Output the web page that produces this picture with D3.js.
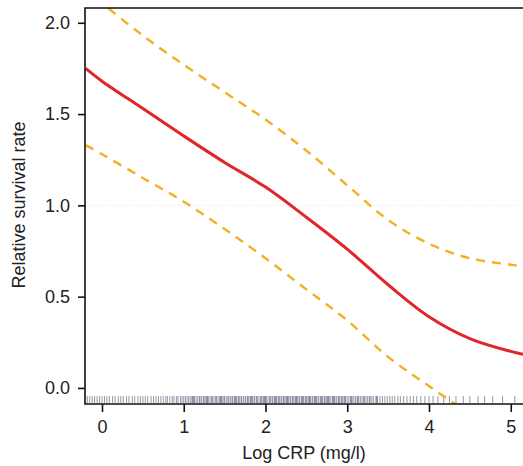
<!DOCTYPE html>
<html>
<head>
<meta charset="utf-8">
<script src="https://cdn.jsdelivr.net/npm/d3@7"></script>
<style>
  body { margin: 0; background: #fff; }
  text { font-family: "Liberation Sans", Arial, sans-serif; fill: #222; }
</style>
</head>
<body>
<div id="chart"></div>
<script>
// log CRP grid the curves were read at
const xGrid = [-0.2, 0, 0.5, 1, 1.5, 2, 2.5, 3, 3.5, 4, 4.5, 5, 5.15];
// estimated relative survival rate and its confidence band
const fitValues = [1.75, 1.68, 1.53, 1.38, 1.235, 1.10, 0.935, 0.76, 0.565, 0.39, 0.27, 0.20, 0.185];
const upperValues = [2.20, 2.11, 1.93, 1.77, 1.62, 1.47, 1.30, 1.11, 0.92, 0.79, 0.71, 0.675, 0.665];
const lowerValues = [1.33, 1.28, 1.15, 1.02, 0.87, 0.71, 0.54, 0.37, 0.17, 0.01, -0.14, -0.27, -0.30];

// individual observations (rug)
const rugValues = [
  -0.18, -0.15, -0.12, -0.09, -0.06, -0.03, 0.0, 0.03, 0.06, 0.09, 0.13, 0.16, 0.2, 0.23, 0.26,
  0.3, 0.33, 0.37, 0.4, 0.44, 0.47, 0.5, 0.53, 0.56, 0.6, 0.63, 0.66, 0.69, 0.72, 0.75, 0.78,
  0.8, 0.83, 0.86, 0.88, 0.91, 0.93, 0.96, 0.98, 1.0, 1.02, 1.04, 1.06, 1.08, 1.1, 1.12, 1.13,
  1.15, 1.17, 1.19, 1.2, 1.22, 1.24, 1.25, 1.27, 1.29, 1.3, 1.32, 1.34, 1.35, 1.37, 1.39, 1.4,
  1.42, 1.44, 1.45, 1.47, 1.49, 1.5, 1.52, 1.54, 1.55, 1.57, 1.59, 1.6, 1.62, 1.63, 1.65, 1.67,
  1.68, 1.7, 1.71, 1.73, 1.75, 1.76, 1.78, 1.79, 1.81, 1.83, 1.84, 1.86, 1.87, 1.89, 1.9, 1.92,
  1.94, 1.95, 1.97, 1.98, 2.0, 2.01, 2.03, 2.05, 2.06, 2.08, 2.09, 2.11, 2.12, 2.14, 2.16, 2.17,
  2.19, 2.2, 2.22, 2.23, 2.25, 2.27, 2.28, 2.3, 2.31, 2.33, 2.34, 2.36, 2.38, 2.39, 2.41, 2.42,
  2.44, 2.46, 2.47, 2.49, 2.5, 2.52, 2.54, 2.55, 2.57, 2.58, 2.6, 2.62, 2.63, 2.65, 2.67, 2.68,
  2.7, 2.72, 2.73, 2.75, 2.77, 2.78, 2.8, 2.82, 2.84, 2.85, 2.87, 2.89, 2.91, 2.93, 2.94, 2.96,
  2.98, 3.0, 3.02, 3.04, 3.06, 3.08, 3.1, 3.12, 3.14, 3.16, 3.18, 3.2, 3.23, 3.25, 3.27, 3.3,
  3.32, 3.35, 3.37, 3.4, 3.43, 3.46, 3.49, 3.52, 3.55, 3.58, 3.62, 3.65, 3.69, 3.73, 3.77, 3.81,
  3.85, 3.9, 3.95, 4.0, 4.05, 4.11, 4.18, 4.25, 4.33, 4.42, 4.5, 4.6, 4.68, 4.78, 4.9, 5.05,
  1.11, 1.28, 1.46, 1.64, 1.82, 1.99, 2.13, 2.26, 2.37, 2.45, 2.53, 2.61, 2.69, 2.76, 2.83, 2.9,
  2.97, 3.05, 3.13, 3.21, 3.28, 3.36
];

const yTicks = [0, 0.5, 1, 1.5, 2];
const xTicks = [0, 1, 2, 3, 4, 5];

const width = 523, height = 466;
const margin = { top: 8, right: 0, bottom: 62, left: 85 };
const innerW = width - margin.left - margin.right;
const innerH = height - margin.top - margin.bottom;

const svg = d3.select("#chart").append("svg")
    .attr("width", width)
    .attr("height", height);

const x = d3.scaleLinear().domain([-0.208, 5.15]).range([0, innerW]);
const y = d3.scaleLinear().domain([-0.088, 2.081]).range([innerH, 0]);

const g = svg.append("g")
    .attr("transform", `translate(${margin.left},${margin.top})`);

g.append("clipPath").attr("id", "clip")
    .append("rect").attr("width", innerW).attr("height", innerH);

// faint reference line at 1.0
g.append("line")
    .attr("x1", 0).attr("x2", innerW)
    .attr("y1", y(1)).attr("y2", y(1))
    .attr("stroke", "#ddd")
    .attr("stroke-width", 0.8)
    .attr("stroke-dasharray", "1,2");

// rug
g.append("g").selectAll("line")
    .data(rugValues)
    .enter().append("line")
    .attr("x1", d => x(d)).attr("x2", d => x(d))
    .attr("y1", innerH - 8).attr("y2", innerH - 1)
    .attr("stroke", "#3c4660")
    .attr("stroke-opacity", 0.55)
    .attr("stroke-width", 1);

const line = d3.line()
    .x(d => x(d[0]))
    .y(d => y(d[1]))
    .curve(d3.curveCatmullRom);

const curves = g.append("g").attr("clip-path", "url(#clip)");

[upperValues, lowerValues].forEach(vals => {
    curves.append("path")
        .datum(xGrid.map((v, i) => [v, vals[i]]))
        .attr("d", line)
        .attr("fill", "none")
        .attr("stroke", "#f2b01e")
        .attr("stroke-width", 2.4)
        .attr("stroke-dasharray", "9,7");
});

curves.append("path")
    .datum(xGrid.map((v, i) => [v, fitValues[i]]))
    .attr("d", line)
    .attr("fill", "none")
    .attr("stroke", "#e0262a")
    .attr("stroke-width", 3);

// frame (right side falls outside the picture)
g.append("path")
    .attr("d", `M${innerW + 2},0H0V${innerH}H${innerW + 2}`)
    .attr("fill", "none")
    .attr("stroke", "#111")
    .attr("stroke-width", 1.6);

// axes
const yAxis = g.append("g")
    .call(d3.axisLeft(y).tickValues(yTicks).tickFormat(d3.format(".1f")).tickSize(7).tickPadding(8));
const xAxis = g.append("g")
    .attr("transform", `translate(0,${innerH})`)
    .call(d3.axisBottom(x).tickValues(xTicks).tickFormat(d3.format("d")).tickSize(8).tickPadding(8));

[yAxis, xAxis].forEach(ax => {
    ax.attr("font-size", null).attr("font-family", null);
    ax.select(".domain").remove();
    ax.selectAll(".tick line").attr("stroke", "#111").attr("stroke-width", 1.6);
    ax.selectAll(".tick text")
        .style("font-family", "'Liberation Sans', Arial, sans-serif")
        .style("font-size", "18px")
        .attr("fill", "#222");
});

svg.append("text")
    .attr("transform", `translate(25,205) rotate(-90)`)
    .attr("text-anchor", "middle")
    .style("font-size", "18px")
    .text("Relative survival rate");

svg.append("text")
    .attr("x", 304)
    .attr("y", 459)
    .attr("text-anchor", "middle")
    .style("font-size", "18px")
    .text("Log CRP (mg/l)");
</script>
</body>
</html>
